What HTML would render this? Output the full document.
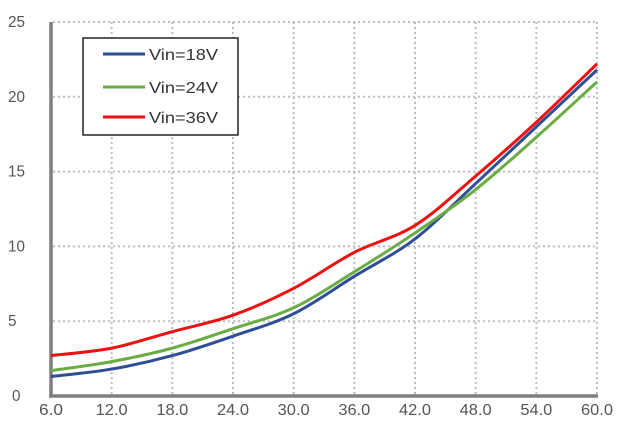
<!DOCTYPE html>
<html><head><meta charset="utf-8"><style>
html,body{margin:0;padding:0;background:#fff;}
svg{display:block;font-family:"Liberation Sans",sans-serif;}
</style></head><body>
<svg id="c" width="630" height="443" viewBox="0 0 630 443" xmlns="http://www.w3.org/2000/svg">
<g id="grid" stroke="#bdbdbd" stroke-width="2" stroke-dasharray="2,3"></g>
<g id="lab" fill="#555" font-size="15.5"></g>
<line x1="51" y1="22" x2="51" y2="397" stroke="#7f7f7f" stroke-width="3.5"/>
<line x1="49" y1="396" x2="598" y2="396" stroke="#7f7f7f" stroke-width="3.5"/>
<g id="series" fill="none" stroke-width="3"></g>
<rect x="83" y="38" width="155" height="97" fill="#fff" stroke="#000" stroke-width="1.3"/>
<line x1="103" y1="54" x2="145" y2="54" stroke="#2e4e96" stroke-width="3"/>
<line x1="103" y1="87" x2="145" y2="87" stroke="#6aac44" stroke-width="3"/>
<line x1="103" y1="117" x2="145" y2="117" stroke="#ee1111" stroke-width="3"/>
<g fill="#333" font-size="15.5">
<text x="149" y="60" textLength="69" lengthAdjust="spacingAndGlyphs">Vin=18V</text>
<text x="149" y="93" textLength="69" lengthAdjust="spacingAndGlyphs">Vin=24V</text>
<text x="149" y="123" textLength="69" lengthAdjust="spacingAndGlyphs">Vin=36V</text>
</g>
</svg>
<script>
var X=function(v){return 51+(v-6)*(597-51)/54;};
var Y=function(v){return 396-v*(396-22)/25;};
var ns="http://www.w3.org/2000/svg";
var g=document.getElementById('grid'),lab=document.getElementById('lab');
function el(p,tag,a,t){var e=document.createElementNS(ns,tag);for(var k in a)e.setAttribute(k,a[k]);if(t)e.textContent=t;p.appendChild(e);}
for(var i=1;i<=5;i++){el(g,'line',{x1:53,y1:Y(i*5),x2:598,y2:Y(i*5)});}
for(var x=12;x<=60;x+=6){el(g,'line',{x1:X(x),y1:22,x2:X(x),y2:394});}
for(var i=0;i<=5;i++){var s=String(i*5);el(lab,'text',{x:i==0?12:8,y:Y(i*5)+5,textLength:s.length*8.5,lengthAdjust:'spacingAndGlyphs'},s);}
for(var x=6;x<=60;x+=6){var s=x.toFixed(1);el(lab,'text',{x:X(x),y:415,'text-anchor':'middle',textLength:s.length*8,lengthAdjust:'spacingAndGlyphs'},s);}
var xs=[6,12,18,24,30,36,42,48,54,60];
var S=[["#2e4e96",[1.3,1.8,2.7,4.0,5.5,8.0,10.5,14.2,18.0,21.8]],
["#6aac44",[1.7,2.3,3.2,4.5,5.9,8.3,10.9,13.8,17.3,21.0]],
["#ee1111",[2.7,3.2,4.3,5.4,7.2,9.6,11.4,14.7,18.3,22.2]]];
var sg=document.getElementById('series');
S.forEach(function(s){
 var p=xs.map(function(x,i){return [X(x),Y(s[1][i])];});
 var d="M"+p[0][0]+","+p[0][1];
 for(var i=0;i<p.length-1;i++){
  var p0=p[i-1]||p[i],p1=p[i],p2=p[i+1],p3=p[i+2]||p2;
  var c1=[p1[0]+(p2[0]-p0[0])/6,p1[1]+(p2[1]-p0[1])/6];
  var c2=[p2[0]-(p3[0]-p1[0])/6,p2[1]-(p3[1]-p1[1])/6];
  d+=" C"+c1+" "+c2+" "+p2;
 }
 el(sg,'path',{d:d,stroke:s[0]});
});
</script>
</body></html>
